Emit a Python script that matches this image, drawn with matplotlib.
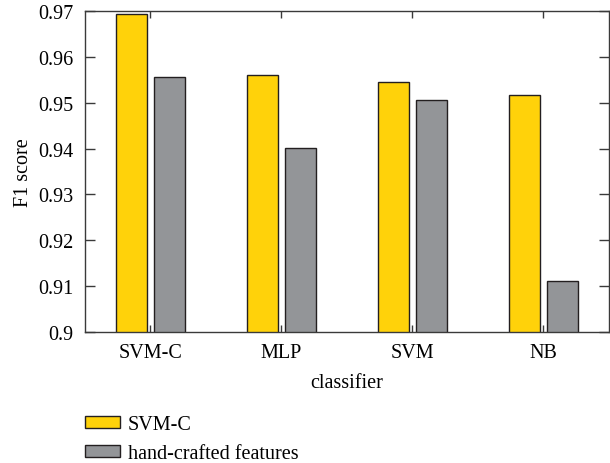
"""Grouped bar chart of F1 score per classifier."""

import numpy as np
from matplotlib import pyplot as plt

classifiers = ["SVM-C", "MLP", "SVM", "NB"]
svm_c_scores = [0.9693, 0.9560, 0.9545, 0.9517]
handcrafted_scores = [0.9557, 0.9401, 0.9505, 0.9112]
series_labels = ["SVM-C", "hand-crafted features"]
y_ticks = [0.90, 0.91, 0.92, 0.93, 0.94, 0.95, 0.96, 0.97]
y_tick_labels = ["0.9", "0.91", "0.92", "0.93", "0.94", "0.95", "0.96", "0.97"]

plt.rcParams["font.family"] = ["Liberation Serif", "DejaVu Serif"]
plt.rcParams["font.size"] = 14.5

fig = plt.figure(figsize=(6.1, 4.64), dpi=100)
ax = fig.add_axes([0.1393, 0.2823, 0.8587, 0.6918])

x = np.arange(len(classifiers))
width = 0.235
offset = 0.145
edge = "#231f20"
b1 = ax.bar(x - offset, svm_c_scores, width, color="#ffd20a", edgecolor=edge,
            linewidth=1.0, label=series_labels[0])
b2 = ax.bar(x + offset, handcrafted_scores, width, color="#939598", edgecolor=edge,
            linewidth=1.0, label=series_labels[1])

ax.set_ylim(0.9, 0.97)
ax.set_xlim(-0.5, 3.5)
ax.set_yticks(y_ticks)
ax.set_yticklabels(y_tick_labels)
ax.set_xticks(x)
ax.set_xticklabels(classifiers)
ax.set_xlabel("classifier", labelpad=8)
ax.set_ylabel("F1 score", labelpad=4)

for spine in ax.spines.values():
    spine.set_color("#3a3a3a")
    spine.set_linewidth(1.0)
ax.tick_params(axis="y", direction="in", length=7, width=1.0, color="#3a3a3a",
               right=True, pad=8)
ax.tick_params(axis="x", direction="in", length=5, width=1.0, color="#3a3a3a",
               top=True, pad=8)

fig.legend(handles=[b1, b2], labels=series_labels, loc="upper left",
           bbox_to_anchor=(0.139, 0.104), frameon=False,
           handlelength=1.75, handleheight=0.55, handletextpad=0.4,
           labelspacing=0.5, borderaxespad=0, borderpad=0)

fig.savefig("out.png", dpi=100)
